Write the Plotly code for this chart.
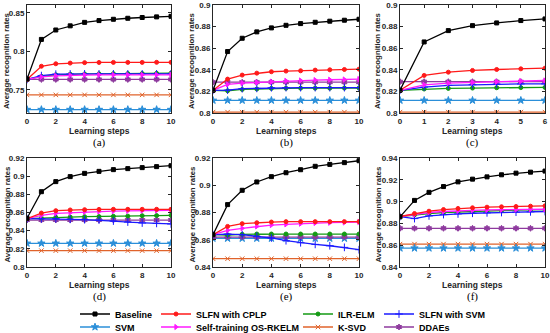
import plotly.graph_objects as go

W, H = 550, 333

# ---------------- data ----------------
steps10 = [0, 1, 2, 3, 4, 5, 6, 7, 8, 9, 10]
steps6 = [0, 1, 2, 3, 4, 5, 6]

series_names = ["Baseline", "SVM", "SLFN with CPLP", "Self-training OS-RKELM",
                "ILR-ELM", "K-SVD", "SLFN with SVM", "DDAEs"]

# panel (a)
a_baseline = [0.764, 0.8154, 0.8276, 0.833, 0.8375, 0.8398, 0.8415, 0.8428, 0.8438, 0.8446, 0.8453]
a_svm = [0.7245, 0.7245, 0.7245, 0.7245, 0.7245, 0.7245, 0.7245, 0.7245, 0.7245, 0.7245, 0.7245]
a_cplp = [0.7635, 0.7806, 0.7838, 0.7847, 0.7853, 0.7855, 0.7856, 0.7856, 0.7856, 0.7857, 0.7857]
a_osrkelm = [0.7635, 0.7667, 0.768, 0.7688, 0.7692, 0.7693, 0.7694, 0.7694, 0.7694, 0.7695, 0.7695]
a_ilrelm = [0.7635, 0.7675, 0.7695, 0.7703, 0.7706, 0.7708, 0.771, 0.7711, 0.7712, 0.7714, 0.7716]
a_ksvd = [0.7435, 0.7435, 0.7435, 0.7435, 0.7435, 0.7435, 0.7435, 0.7435, 0.7435, 0.7435, 0.7435]
a_slfnsvm = [0.7635, 0.7685, 0.7703, 0.7706, 0.7707, 0.7707, 0.7707, 0.7707, 0.7707, 0.7707, 0.7707]
a_ddaes = [0.7635, 0.7635, 0.7635, 0.7635, 0.7635, 0.7635, 0.7635, 0.7635, 0.7635, 0.7635, 0.7635]

# panel (b)
b_baseline = [0.821, 0.8569, 0.8692, 0.8751, 0.8788, 0.8812, 0.8828, 0.884, 0.885, 0.8859, 0.8868]
b_svm = [0.8117, 0.8117, 0.8117, 0.8117, 0.8117, 0.8117, 0.8117, 0.8117, 0.8117, 0.8117, 0.8117]
b_cplp = [0.821, 0.8314, 0.8351, 0.8369, 0.8382, 0.8388, 0.8391, 0.8397, 0.84, 0.8403, 0.8406]
b_osrkelm = [0.821, 0.8265, 0.8277, 0.8283, 0.829, 0.8298, 0.8301, 0.8305, 0.8308, 0.831, 0.8314]
b_ilrelm = [0.821, 0.8206, 0.8218, 0.8222, 0.8228, 0.8229, 0.823, 0.823, 0.823, 0.8231, 0.8231]
b_ksvd = [0.8008, 0.8008, 0.8008, 0.8008, 0.8008, 0.8008, 0.8008, 0.8008, 0.8008, 0.8008, 0.8008]
b_slfnsvm = [0.821, 0.8212, 0.8225, 0.8228, 0.8234, 0.8235, 0.8235, 0.8235, 0.8235, 0.8235, 0.8235]
b_ddaes = [0.8285, 0.8285, 0.8285, 0.8285, 0.8285, 0.8285, 0.8285, 0.8285, 0.8285, 0.8285, 0.8285]

# panel (c)
c_baseline = [0.821, 0.8658, 0.8763, 0.8809, 0.8834, 0.8856, 0.8871]
c_svm = [0.8117, 0.8117, 0.8117, 0.8117, 0.8117, 0.8117, 0.8117]
c_cplp = [0.821, 0.8348, 0.8378, 0.8394, 0.8403, 0.8409, 0.8415]
c_osrkelm = [0.821, 0.8261, 0.8276, 0.8283, 0.829, 0.8295, 0.8301]
c_ilrelm = [0.821, 0.8222, 0.8228, 0.8231, 0.8234, 0.8235, 0.8237]
c_ksvd = [0.8008, 0.8008, 0.8008, 0.8008, 0.8008, 0.8008, 0.8008]
c_slfnsvm = [0.821, 0.824, 0.8256, 0.8262, 0.8268, 0.8269, 0.827]
c_ddaes = [0.829, 0.829, 0.829, 0.829, 0.829, 0.829, 0.829]

# panel (d)
d_baseline = [0.8536, 0.8829, 0.894, 0.8995, 0.9031, 0.9053, 0.9072, 0.9083, 0.9094, 0.9105, 0.9115]
d_svm = [0.8261, 0.8261, 0.8261, 0.8261, 0.8261, 0.8261, 0.8261, 0.8261, 0.8261, 0.8261, 0.8261]
d_cplp = [0.8532, 0.8594, 0.862, 0.8628, 0.8631, 0.8634, 0.8635, 0.8635, 0.8635, 0.8635, 0.8635]
d_osrkelm = [0.8532, 0.8569, 0.8591, 0.8598, 0.8606, 0.8611, 0.8615, 0.8618, 0.862, 0.8622, 0.8624]
d_ilrelm = [0.8532, 0.854, 0.8547, 0.855, 0.8554, 0.8555, 0.8558, 0.856, 0.8565, 0.8566, 0.8569]
d_ksvd = [0.818, 0.818, 0.818, 0.818, 0.818, 0.818, 0.818, 0.818, 0.818, 0.818, 0.818]
d_slfnsvm = [0.8532, 0.8532, 0.8532, 0.8525, 0.8521, 0.8517, 0.8506, 0.8495, 0.8484, 0.848, 0.8474]
d_ddaes = [0.8517, 0.8517, 0.8517, 0.8517, 0.8517, 0.8517, 0.8517, 0.8517, 0.8517, 0.8517, 0.8517]

# panel (e)
e_baseline = [0.8637, 0.8858, 0.8963, 0.9024, 0.9063, 0.9092, 0.9114, 0.9139, 0.9153, 0.9166, 0.918]
e_svm = [0.861, 0.861, 0.861, 0.861, 0.861, 0.861, 0.861, 0.861, 0.861, 0.861, 0.861]
e_cplp = [0.8637, 0.8698, 0.8718, 0.8725, 0.873, 0.8733, 0.8733, 0.8733, 0.8733, 0.8733, 0.8733]
e_osrkelm = [0.8637, 0.8669, 0.8684, 0.8698, 0.8708, 0.8713, 0.8718, 0.8723, 0.8725, 0.8727, 0.873]
e_ilrelm = [0.8637, 0.8635, 0.864, 0.8642, 0.8642, 0.8642, 0.8642, 0.8642, 0.8642, 0.8642, 0.8642]
e_ksvd = [0.8461, 0.8461, 0.8461, 0.8461, 0.8461, 0.8461, 0.8461, 0.8461, 0.8461, 0.8461, 0.8461]
e_slfnsvm = [0.8637, 0.8642, 0.8637, 0.8625, 0.8613, 0.8593, 0.8578, 0.8566, 0.8556, 0.8544, 0.8527]
e_ddaes = [0.862, 0.862, 0.862, 0.862, 0.862, 0.862, 0.862, 0.862, 0.862, 0.862, 0.862]

# panel (f)
f_baseline = [0.886, 0.9011, 0.9085, 0.9138, 0.9181, 0.9206, 0.9227, 0.9246, 0.9261, 0.927, 0.928]
f_svm = [0.8573, 0.8573, 0.8573, 0.8573, 0.8573, 0.8573, 0.8573, 0.8573, 0.8573, 0.8573, 0.8573]
f_cplp = [0.8863, 0.889, 0.8912, 0.8927, 0.8937, 0.8943, 0.8949, 0.8952, 0.8955, 0.8958, 0.8961]
f_osrkelm = [0.8863, 0.8881, 0.89, 0.8909, 0.8915, 0.8921, 0.8924, 0.8925, 0.8926, 0.8928, 0.893]
f_ilrelm = [0.8863, 0.8878, 0.889, 0.89, 0.8906, 0.8909, 0.8915, 0.8918, 0.8921, 0.8924, 0.8927]
f_ksvd = [0.861, 0.861, 0.861, 0.861, 0.861, 0.861, 0.861, 0.861, 0.861, 0.861, 0.861]
f_slfnsvm = [0.8863, 0.8844, 0.8869, 0.8881, 0.8887, 0.8893, 0.8897, 0.89, 0.8903, 0.8906, 0.8909]
f_ddaes = [0.8755, 0.8755, 0.8755, 0.8755, 0.8755, 0.8755, 0.8755, 0.8755, 0.8755, 0.8755, 0.8755]

panel_labels = ["(a)", "(b)", "(c)", "(d)", "(e)", "(f)"]
x_title = "Learning steps"
y_title = "Average recognition rates"

# ---------------- styling ----------------
colors = ["#000000", "#2b8fd9", "#ff1a1a", "#ff1aff", "#139a13", "#e0632b", "#1a1aff", "#8e3a9e"]
symbols = ["square", "star", "circle", "triangle-right", "circle", "x-thin-open", "cross-thin-open", "hexagram"]
msizes = [4, 5.5, 4, 4.5, 4, 4.5, 5.5, 4.5]

panels = [
    (steps10, [a_baseline, a_svm, a_cplp, a_osrkelm, a_ilrelm, a_ksvd, a_slfnsvm, a_ddaes]),
    (steps10, [b_baseline, b_svm, b_cplp, b_osrkelm, b_ilrelm, b_ksvd, b_slfnsvm, b_ddaes]),
    (steps6, [c_baseline, c_svm, c_cplp, c_osrkelm, c_ilrelm, c_ksvd, c_slfnsvm, c_ddaes]),
    (steps10, [d_baseline, d_svm, d_cplp, d_osrkelm, d_ilrelm, d_ksvd, d_slfnsvm, d_ddaes]),
    (steps10, [e_baseline, e_svm, e_cplp, e_osrkelm, e_ilrelm, e_ksvd, e_slfnsvm, e_ddaes]),
    (steps10, [f_baseline, f_svm, f_cplp, f_osrkelm, f_ilrelm, f_ksvd, f_slfnsvm, f_ddaes]),
]

# pixel boxes of the six plot areas: (left, right, top, bottom)
boxes = [(27, 171, 5, 113), (213, 359, 5, 113), (400, 545, 5, 113),
         (27, 171, 158, 267), (213, 359, 158, 267), (400, 545, 158, 267)]
yranges = [[0.72, 0.86], [0.8, 0.9], [0.8, 0.9], [0.8, 0.92], [0.84, 0.92], [0.84, 0.94]]
ytickv = [[0.75, 0.8, 0.85],
          [0.8, 0.82, 0.84, 0.86, 0.88, 0.9],
          [0.8, 0.82, 0.84, 0.86, 0.88, 0.9],
          [0.8, 0.82, 0.84, 0.86, 0.88, 0.9, 0.92],
          [0.84, 0.86, 0.88, 0.9, 0.92],
          [0.84, 0.86, 0.88, 0.9, 0.92, 0.94]]
xtickv = [[0, 2, 4, 6, 8, 10], [0, 2, 4, 6, 8, 10], [0, 1, 2, 3, 4, 5, 6],
          [0, 2, 4, 6, 8, 10], [0, 2, 4, 6, 8, 10], [0, 2, 4, 6, 8, 10]]

FONT = "Liberation Sans, Arial, sans-serif"
AX = "#262626"
draw_order = [5, 1, 7, 4, 6, 3, 2, 0]

fig = go.Figure()
layout = {}
for p, (xs, ys) in enumerate(panels):
    k = "" if p == 0 else str(p + 1)
    for s in draw_order:
        tr = dict(
            x=xs, y=ys[s], mode="lines+markers", name=series_names[s],
            xaxis="x" + k, yaxis="y" + k,
            line=dict(color=colors[s], width=1.3),
            marker=dict(symbol=symbols[s], size=msizes[s], color=colors[s],
                        line=dict(color=colors[s], width=1)),
            showlegend=(p == 0), legendgroup=series_names[s],
        )
        if p == 0:
            tr["legend"] = "legend" if s == 0 else "legend" + str(s + 1)
        fig.add_trace(go.Scatter(**tr))
    l, r, t, b = boxes[p]
    xr = [xtickv[p][0], xtickv[p][-1]]
    layout["xaxis" + k] = dict(
        domain=[l / W, r / W], anchor="y" + k, range=xr, tickvals=xtickv[p],
        ticktext=[str(v) for v in xtickv[p]], ticklabeloverflow="allow",
        showline=True, linecolor=AX, linewidth=1, mirror="allticks",
        ticks="inside", ticklen=3, tickcolor=AX, showgrid=False, zeroline=False,
        tickfont=dict(family=FONT, size=8, color=AX, weight="bold"),
    )
    layout["yaxis" + k] = dict(
        domain=[1 - b / H, 1 - t / H], anchor="x" + k, range=yranges[p], tickvals=ytickv[p],
        ticktext=[("%g" % v) for v in ytickv[p]], ticklabeloverflow="allow",
        showline=True, linecolor=AX, linewidth=1, mirror="allticks",
        ticks="inside", ticklen=3, tickcolor=AX, showgrid=False, zeroline=False,
        tickfont=dict(family=FONT, size=8, color=AX, weight="bold"),
    )

annotations = []
ytitle_x = [7, 192, 378]
for p in range(6):
    l, r, t, b = boxes[p]
    col = p % 3
    annotations.append(dict(x=(l + r) / 2 / W, y=1 - (b + 17.5) / H, xref="paper", yref="paper",
                            text="<b>" + x_title + "</b>", showarrow=False,
                            font=dict(family=FONT, size=8.5, color=AX),
                            xanchor="center", yanchor="middle"))
    annotations.append(dict(x=(l + r) / 2 / W, y=1 - (b + 29.5) / H, xref="paper", yref="paper",
                            text=panel_labels[p], showarrow=False,
                            font=dict(family="Liberation Serif, Times New Roman, serif", size=11, color="#000000"),
                            xanchor="center", yanchor="middle"))
    annotations.append(dict(x=ytitle_x[col] / W, y=1 - ((t + b) / 2 + 2) / H, xref="paper", yref="paper",
                            text="<b>" + y_title + "</b>", showarrow=False, textangle=-90,
                            font=dict(family=FONT, size=7.8, color=AX),
                            xanchor="center", yanchor="middle"))

# legend positions (text start x, row centre y) in pixels
leg_text_x = [112, 112, 193, 193, 335, 335, 416, 416]
leg_row_y = [314, 327, 314, 327, 314, 327, 314, 327]
for s in range(8):
    key = "legend" if s == 0 else "legend" + str(s + 1)
    layout[key] = dict(
        x=(leg_text_x[s] - 37) / W, y=1 - leg_row_y[s] / H, xanchor="left", yanchor="middle",
        orientation="v", bgcolor="rgba(0,0,0,0)", borderwidth=0, itemwidth=30,
        font=dict(family=FONT, size=9, color="#000000", weight="bold"),
        tracegroupgap=0,
    )

fig.update_layout(**layout)
fig.update_layout(
    width=W, height=H, margin=dict(l=0, r=0, t=0, b=0, autoexpand=False),
    paper_bgcolor="white", plot_bgcolor="white",
    annotations=annotations,
)
fig.write_html("out.html", config={"displayModeBar": False},
               post_script="document.body.style.margin='0px';document.body.style.overflow='hidden';")
